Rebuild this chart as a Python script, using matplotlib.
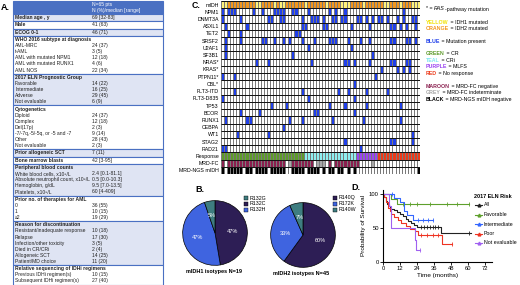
import numpy as np
import matplotlib
matplotlib.use("Agg")
import matplotlib.pyplot as plt
from matplotlib.colors import ListedColormap, BoundaryNorm
from matplotlib.patches import Rectangle

plt.rcParams["font.family"] = ["Liberation Sans", "DejaVu Sans"]

W, H = 520, 285

# ---------------------------------------------------------------- panel A data
table_sections = [1, 1, 1, 6, 5, 7, 1, 1, 5, 4, 7, 3]
table_labels = [
    "Median age , y", "Male", "ECOG 0-1",
    "WHO 2016 subtype at diagnosis", "AML-MRC", "t-AML",
    "AML with mutated NPM1", "AML with mutated RUNX1", "AML NOS",
    "2017 ELN Prognostic Group", "Favorable", "Intermediate", "Adverse",
    "Not evaluable",
    "Cytogenetics", "Diploid", "Complex", "Del(17p)",
    "-7/-7q,-5/-5q, or -5 and -7", "Other", "Not evaluable",
    "Prior allogeneic SCT", "Bone marrow blasts",
    "Peripheral blood counts", "White blood cells, x10⁹/L",
    "Absolute neutrophil count, x10⁹/L", "Hemoglobin, g/dL",
    "Platelets, x10⁹/L",
    "Prior no. of therapies for AML", "0", "1", "≥2",
    "Reason for discontinuation", "Resistant/inadequate response", "Relapse",
    "Infection/other toxicity", "Died in CR/CRi", "Allogeneic SCT",
    "Patient/MD choice",
    "Relative sequencing of IDHi regimens", "Previous IDHi regimen(s)",
    "Subsequent IDHi regimen(s)",
]
table_values = [
    "69 [32-83]", "41 (63)", "46 (71)",
    "", "24 (37)", "3 (5)", "12 (18)", "4 (6)", "22 (34)",
    "", "14 (22)", "16 (25)", "29 (45)", "6 (9)",
    "", "24 (37)", "12 (18)", "2 (3)", "9 (14)", "28 (43)", "2 (3)",
    "7 (11)", "42 [3-95]",
    "", "2.4 [0.1-81.1]", "0.5 [0.0-10.3]", "9.5 [7.0-13.5]", "60 [4-409]",
    "", "36 (55)", "10 (15)", "19 (29)",
    "", "10 (18)", "17 (30)", "3 (5)", "2 (4)", "14 (25)", "11 (20)",
    "", "10 (15)", "27 (40)",
]

# ---------------------------------------------------------------- panel C data
n_pts = 65
row_names = ["mIDH", "NPM1", "DNMT3A", "ASXL1", "TET2", "SRSF2", "U2AF1",
             "SF3B1", "NRAS*", "KRAS*", "PTPN11*", "CBL*", "FLT3-ITD",
             "FLT3-D835", "TP53", "BCOR", "RUNX1", "CEBPA", "WT1", "STAG2",
             "RAD21", "Response", "MRD-FC", "MRD-NGS mIDH"]
idh1_cols = [0, 1, 11, 12, 17, 19, 20, 27, 34, 39, 40, 41, 46, 53, 54, 58,
             62, 63, 64]
gene_mutations = [
    [0, 2, 3, 4, 10, 13, 17, 18, 19, 20, 23, 24, 28, 35, 37, 40, 59],
    [0, 6, 15, 16, 19, 20, 26, 29, 30, 31, 33, 36, 37, 39, 40, 44, 45, 47,
     49, 51, 52, 54, 57, 59, 62, 63],
    [1, 8, 26, 27, 33, 34, 42, 48, 55, 56, 58, 60, 63],
    [2, 6, 24, 25],
    [1, 6, 13, 14, 17, 20, 22, 26, 30, 35, 36, 37, 41, 45, 48, 55, 56, 60,
     61, 63],
    [1, 28, 42],
    [1, 23, 49],
    [11, 15, 29, 40, 41, 43, 48, 55, 56, 60, 61],
    [52, 57, 59, 61],
    [0, 4, 50],
    [43],
    [4, 26, 38, 41, 47, 54],
    [0, 28, 43],
    [16, 21, 35, 40, 47, 58],
    [6, 12, 30, 31, 43],
    [1, 8, 9, 22, 26, 36, 46, 58],
    [20],
    [5, 15, 62],
    [40, 55, 56, 62],
    [0, 1, 45],
]
# G=CR, T=CRi, P=MLFS, R=no response
response = "G" * 27 + "T" * 17 + "P" * 7 + "R" * 14
# M=MRD-FC negative, G=indeterminate, W=other
mrd_fc = ("M" + "W" + "M" * 19 + "W" + "G" + "M" * 7 + "W" + "GGG" + "W" +
          "M" + "W" + "M" * 5 + "MMM" + "WWWW" + "G" + "W" * 15)
# K=MRD-NGS mIDH negative
mrd_ngs = ("K" + "W" + "K" * 5 + "W" + "KK" + "W" + "K" * 4 + "W" + "K" * 5 +
           "WW" + "K" * 4 + "W" + "K" * 4 + "W" + "K" + "W" + "KK" + "W" +
           "KK" + "W" + "K" + "W" + "K" + "W" * 20 + "K")

# ---------------------------------------------------------------- panel B data
idh1_types = ["R132G", "R132C", "R132H"]
idh1_counts = [1, 9, 9]
idh2_types = ["R140Q", "R172K", "R140W"]
idh2_counts = [27, 15, 3]

# ---------------------------------------------------------------- panel D data
risk_groups = ["All", "Favorable", "Intermediate", "Poor", "Not evaluable"]
risk_colors = ["#222222", "#5EA02C", "#3366FF", "#EE3322", "#A060F0"]
km_times = [
    [0, 1, 2, 3, 4, 5, 6, 8, 10, 12, 14, 16, 18, 20, 22, 24, 41, 62],
    [0, 6, 10, 61],
    [0, 8, 12, 15, 17, 21, 35.5],
    [0, 1, 2, 3.5, 5, 6, 8, 10.5, 13, 16.5, 19, 22.5, 25, 41.5, 48.5],
    [0, 4.5, 6, 22.5, 23.5, 26],
]
km_surv = [
    [100, 95, 90, 85, 82, 80, 78, 76, 73, 70, 67, 64, 61, 58, 55, 51, 42, 42],
    [100, 93, 86, 86],
    [100, 94, 88, 75, 69, 62, 62],
    [100, 95, 88, 80, 75, 70, 66, 62, 58, 53, 48, 45, 40, 27, 27],
    [100, 83, 50, 33, 17, 17],
]
km_censor = [
    [27, 29, 31, 33, 35, 37, 39, 61],
    [14, 19, 24, 33, 45, 52, 61],
    [6.5, 25, 28, 32, 35.5],
    [27, 31, 35, 39, 48.5],
    [26],
]


def rect(x0, y0, x1, y1):
    return [x0 / W, 1 - y1 / H, (x1 - x0) / W, (y1 - y0) / H]


fig = plt.figure(figsize=(W / 100, H / 100), dpi=100)
canvas = fig.add_axes([0, 0, 1, 1])
canvas.set_xlim(0, W)
canvas.set_ylim(H, 0)
canvas.axis("off")

# ---------------------------------------------------------------- panel A
TBL_BLUE = "#4A70C2"
LAV = "#DFE4F3"
canvas.text(1, 8, "A.", fontsize=6.5, weight="bold", va="center")
canvas.add_patch(Rectangle((13, 1), 150, 13, facecolor=TBL_BLUE,
                           edgecolor=TBL_BLUE, lw=0.8))
canvas.text(92, 4.8, "N=65 pts", fontsize=3.6, color="white", va="center")
canvas.text(92, 10.3, "N (%)/median [range]", fontsize=3.6, color="white",
            va="center")
row_h, pad = 6.1, 1.2
y = 14.0
i = 0
for k, n in enumerate(table_sections):
    h = n * row_h + pad
    canvas.add_patch(Rectangle((13, y), 150, h,
                               facecolor=LAV if k % 2 == 0 else "white",
                               edgecolor=TBL_BLUE, lw=0.8))
    for j in range(n):
        yy = y + pad / 2 + row_h * (j + 0.5)
        canvas.text(15, yy, table_labels[i], fontsize=3.6, va="center",
                    weight="bold" if j == 0 else "normal", color="#222222")
        canvas.text(92, yy, table_values[i], fontsize=3.6, va="center",
                    color="#222222")
        i += 1
    y += h

# ---------------------------------------------------------------- panel C
canvas.text(192, 5, "C.", fontsize=6.3, weight="bold", va="center")
M = np.zeros((len(row_names), n_pts))
M[0, :] = 3
M[0, idh1_cols] = 2
for r, cols in enumerate(gene_mutations, start=1):
    M[r, cols] = 1
resp_code = {"G": 4, "T": 5, "P": 6, "R": 7}
M[21, :] = [resp_code[c] for c in response]
M[22, :] = [{"M": 8, "G": 9, "W": 0}[c] for c in mrd_fc]
M[23, :] = [{"K": 10, "W": 0}[c] for c in mrd_ngs]

cell_colors = ["white", "#1F3FEA", "#FFF27A", "#F2961E", "#5E9A2A",
               "#8EEFF0", "#9A45F0", "#EC3A1A", "#8A1F4E", "#A8A8A8", "black"]
cmap = ListedColormap(cell_colors)
norm = BoundaryNorm(np.arange(-0.5, len(cell_colors)), cmap.N)

axc = fig.add_axes(rect(221, 1, 420, 174))
axc.pcolormesh(np.arange(n_pts + 1), np.arange(len(row_names) + 1), M,
               cmap=cmap, norm=norm, edgecolors="#7A7A7A", linewidth=0.7)
axc.hlines(np.arange(len(row_names) + 1), 0, n_pts, color="black", lw=0.6)
axc.set_xlim(0, n_pts)
axc.set_ylim(len(row_names), 0)
axc.set_xticks([])
axc.set_yticks(np.arange(len(row_names)) + 0.5)
axc.set_yticklabels(row_names, fontsize=3.8)
axc.tick_params(axis="y", length=0, pad=1.5)
for s in axc.spines.values():
    s.set_visible(False)

legend_lines = [
    (9, [("* = ", "black", "normal", "normal"),
         ("RAS", "black", "italic", "normal"),
         ("-pathway mutation", "black", "normal", "normal")]),
    (22, [("YELLOW", "#F2E200", "normal", "bold"),
          (" = IDH1 mutated", "black", "normal", "normal")]),
    (28.7, [("ORANGE", "#F2961E", "normal", "bold"),
            (" = IDH2 mutated", "black", "normal", "normal")]),
    (41.7, [("BLUE", "#1F3FEA", "normal", "bold"),
            (" = Mutation present", "black", "normal", "normal")]),
    (53.3, [("GREEN", "#5E9A2A", "normal", "bold"),
            (" = CR", "black", "normal", "normal")]),
    (60, [("TEAL", "#7FE6F0", "normal", "bold"),
          (" = CRi", "black", "normal", "normal")]),
    (66.7, [("PURPLE", "#9A45F0", "normal", "bold"),
            (" = MLFS", "black", "normal", "normal")]),
    (73.3, [("RED", "#EC3A1A", "normal", "bold"),
            (" = No response", "black", "normal", "normal")]),
    (86.7, [("MAROON", "#8A1F4E", "normal", "bold"),
            (" = MRD-FC negative", "black", "normal", "normal")]),
    (92.7, [("GREY", "#A8A8A8", "normal", "bold"),
            (" = MRD-FC indeterminate", "black", "normal", "normal")]),
    (99.3, [("BLACK", "black", "normal", "bold"),
            (" = MRD-NGS mIDH negative", "black", "normal", "normal")]),
]
for ly, parts in legend_lines:
    prev = None
    for txt, col, style, weight in parts:
        kw = dict(fontsize=3.75, color=col, fontstyle=style,
                  fontweight=weight, va="center", ha="left")
        if prev is None:
            prev = canvas.text(426, ly, txt, **kw)
        else:
            prev = canvas.annotate(txt, xy=(1, 0.5), xycoords=prev, **kw)

# ---------------------------------------------------------------- panel B
canvas.text(195, 189, "B.", fontsize=6.5, weight="bold", va="center")
pie_cols1 = ["#3E7D80", "#2D1E55", "#3F64E0"]
pie_cols2 = ["#2D1E55", "#3F64E0", "#3E7D80"]


def draw_pie(box, counts, cols, order):
    ax = fig.add_axes(rect(*box))
    vals = [counts[o] for o in order]
    cs = [cols[o] for o in order]
    ax.pie(vals, colors=cs, startangle=90, counterclock=False,
           autopct=lambda p: "%d%%" % round(p), pctdistance=0.55,
           wedgeprops=dict(edgecolor="black", linewidth=0.5),
           textprops=dict(color="white", fontsize=4))
    ax.set_xlim(-1.02, 1.02)
    ax.set_ylim(-1.02, 1.02)
    ax.set_aspect("equal")
    return ax


draw_pie((182, 200, 248, 266), idh1_counts, pie_cols1, [1, 2, 0])
draw_pie((270, 202, 336, 268), idh2_counts, pie_cols2, [0, 1, 2])

for lx, types, cols in [(244, idh1_types, pie_cols1),
                        (333, idh2_types, pie_cols2)]:
    for k, (name, c) in enumerate(zip(types, cols)):
        ly = 198 + 5.8 * k
        canvas.add_patch(Rectangle((lx, ly - 2), 4, 4, facecolor=c,
                                   edgecolor="black", lw=0.3))
        canvas.text(lx + 5.5, ly, name, fontsize=3.8, va="center")

canvas.text(214, 271, "mIDH1 isotypes N=19", fontsize=4, ha="center",
            va="center", weight="bold")
canvas.text(301, 273, "mIDH2 isotypes N=45", fontsize=4, ha="center",
            va="center", weight="bold")

# ---------------------------------------------------------------- panel D
canvas.text(351, 187, "D.", fontsize=6.5, weight="bold", va="center")
axd = fig.add_axes(rect(383, 190, 492, 262))
for t, s, cens, col in zip(km_times, km_surv, km_censor, risk_colors):
    axd.step(t, s, where="post", color=col, lw=0.8)
    t_arr = np.array(t)
    idx = np.searchsorted(t_arr, cens, side="right") - 1
    axd.plot(cens, np.array(s)[idx], ls="none", marker="|", ms=2.2,
             mew=0.6, color=col)
axd.set_xlim(0, 77)
axd.set_ylim(0, 106)
axd.set_xticks([0, 12, 24, 36, 48, 60, 72])
axd.set_yticks([0, 50, 100])
axd.tick_params(labelsize=4.2, length=2, width=0.6, pad=1)
for s in ["top", "right"]:
    axd.spines[s].set_visible(False)
for s in ["left", "bottom"]:
    axd.spines[s].set_linewidth(0.8)
axd.set_xlabel("Time (months)", fontsize=4.6, labelpad=1.5)
axd.set_ylabel("Probability of Survival", fontsize=4.6, labelpad=2)
axd.patch.set_alpha(0)

canvas.text(474, 196, "2017 ELN Risk", fontsize=4, weight="bold",
            va="center")
for k, (name, col) in enumerate(zip(risk_groups, risk_colors)):
    ly = 205 + 9.5 * k
    canvas.plot([475, 482], [ly, ly], color=col, lw=0.8)
    canvas.plot([478.5], [ly], color=col, marker="^", ms=2)
    canvas.text(484, ly, name, fontsize=3.8, va="center")

fig.savefig("out.png", dpi=100)
